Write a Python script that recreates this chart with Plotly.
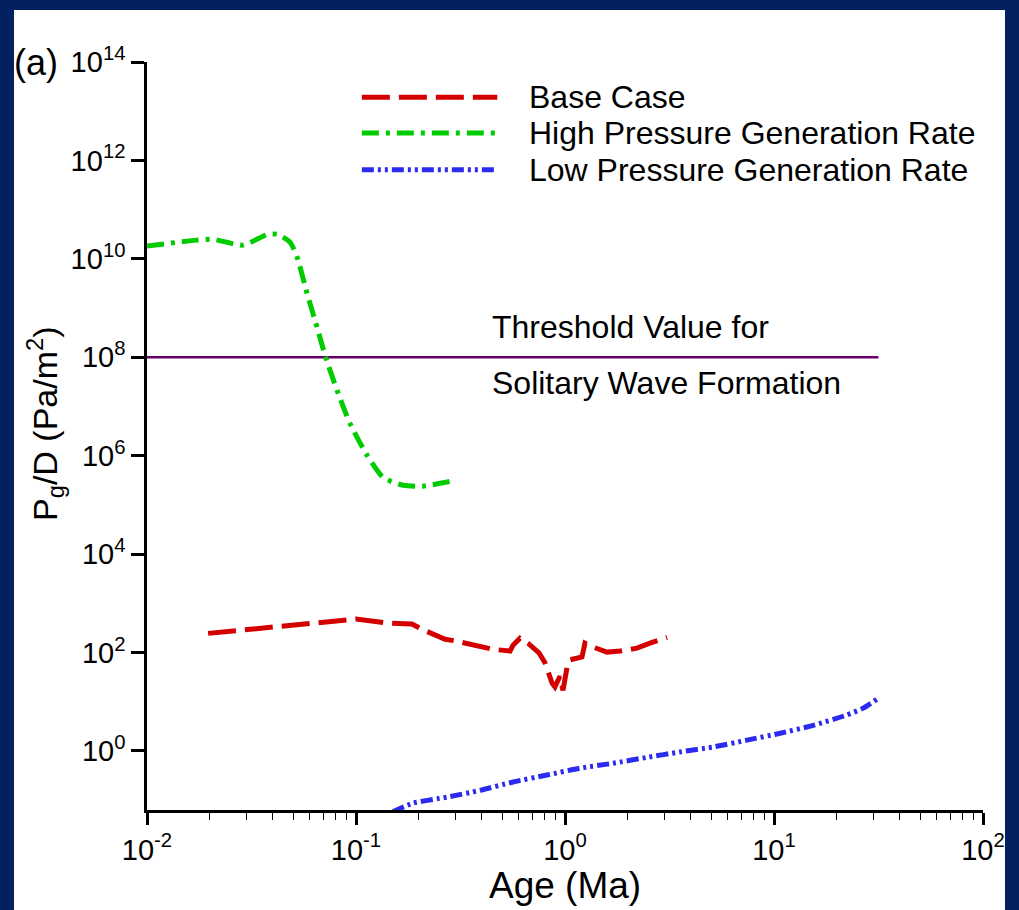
import plotly.graph_objects as go

# Base case: age (Ma) and P_g/D (Pa/m^2)
base_age = [0.0196, 0.031, 0.048, 0.084, 0.10, 0.14, 0.185, 0.21, 0.267, 0.304,
            0.392, 0.448, 0.546, 0.564, 0.609, 0.665, 0.751, 0.802, 0.867, 0.895,
            0.946, 0.978, 1.023, 1.057, 1.206, 1.246, 1.362, 1.588, 1.834, 2.21,
            2.55, 3.08]
base_pgd = [245, 295, 355, 437, 479, 398, 380, 288, 186, 170,
            129, 117, 107, 141, 195, 155, 98, 62, 24, 20,
            33, 17, 50, 71, 81, 155, 129, 102, 107, 123,
            155, 204]

# High pressure generation rate
high_age = [0.01, 0.0173, 0.0207, 0.0288, 0.0379, 0.0419, 0.0483, 0.0522, 0.0583,
            0.0651, 0.0711, 0.0811, 0.0935, 0.113, 0.1346, 0.168, 0.209, 0.282]
high_pgd = [1.82e10, 2.4e10, 2.5e10, 1.9e10, 3.16e10, 3.16e10, 2.19e10, 1.1e10, 2.0e9,
            4.07e8, 1.1e8, 2.14e7, 4.57e6, 1.02e6, 3.63e5, 2.5e5, 2.4e5, 3.0e5]

# Low pressure generation rate
low_age = [0.15, 0.1875, 0.272, 0.392, 0.564, 0.82, 1.18, 1.70, 2.47, 3.55,
           5.10, 7.43, 10.7, 15.4, 22.3, 26.7, 31.5]
low_pgd = [0.058, 0.087, 0.115, 0.158, 0.234, 0.324, 0.447, 0.562, 0.741, 0.955,
           1.20, 1.66, 2.29, 3.31, 5.37, 7.41, 11.7]

# Threshold for solitary wave formation
threshold_age = [0.01, 31.6]
threshold_pgd = [1e8, 1e8]

x_tickvals = [0.01, 0.1, 1, 10, 100]
x_ticktext = ["10<sup>-2</sup>", "10<sup>-1</sup>", "10<sup>0</sup>", "10<sup>1</sup>", "10<sup>2</sup>"]
y_tickvals = [1, 1e2, 1e4, 1e6, 1e8, 1e10, 1e12, 1e14]
y_ticktext = ["10<sup>%d</sup>" % e for e in range(0, 15, 2)]
x_minor = [k * 10.0 ** e for e in range(-2, 2) for k in range(2, 10)]

RED = "#d40000"
GREEN = "#00cc00"
BLUE = "#2b2bf0"
PURPLE = "#660066"
NAVY = "#032160"

RED_DASH = "28px,9px"
GREEN_DASH = "17px,7px,4px,7px"
BLUE_DASH = "12px,4px,3px,4px,3px,4px"

fig = go.Figure()
fig.add_trace(go.Scatter(x=threshold_age, y=threshold_pgd, mode="lines",
                         line=dict(color=PURPLE, width=2.5), name="Threshold"))
fig.add_trace(go.Scatter(x=base_age, y=base_pgd, mode="lines",
                         line=dict(color=RED, width=5, dash=RED_DASH), name="Base Case"))
fig.add_trace(go.Scatter(x=high_age, y=high_pgd, mode="lines",
                         line=dict(color=GREEN, width=5, dash=GREEN_DASH, shape="spline", smoothing=0.6),
                         name="High Pressure Generation Rate"))
fig.add_trace(go.Scatter(x=low_age, y=low_pgd, mode="lines",
                         line=dict(color=BLUE, width=5, dash=BLUE_DASH, shape="spline", smoothing=0.6),
                         name="Low Pressure Generation Rate"))

FONT = "Liberation Sans, Arial, sans-serif"

# white panel on the navy page
shapes = [dict(type="rect", xref="paper", yref="paper", x0=-0.1591, x1=1.0263,
               y0=-0.14, y1=1.0695, fillcolor="white", line=dict(width=0), layer="below")]

# legend keys
legend_rows = [("Base Case", RED, RED_DASH, 0.953),
               ("High Pressure Generation Rate", GREEN, GREEN_DASH, 0.905),
               ("Low Pressure Generation Rate", BLUE, BLUE_DASH, 0.856)]
annotations = []
for label, color, dash, yy in legend_rows:
    shapes.append(dict(type="line", xref="paper", yref="paper", x0=0.257, x1=0.419,
                       y0=yy, y1=yy, line=dict(color=color, width=5, dash=dash)))
    annotations.append(dict(text=label, xref="paper", yref="paper", x=0.455, y=yy,
                            xanchor="left", yanchor="middle", showarrow=False,
                            font=dict(size=32, family=FONT, color="black")))

annotations += [
    dict(text="Threshold Value for", xref="paper", yref="paper", x=0.41, y=0.6457,
         xanchor="left", yanchor="middle", showarrow=False, font=dict(size=32, family=FONT)),
    dict(text="Solitary Wave Formation", xref="paper", yref="paper", x=0.41, y=0.571,
         xanchor="left", yanchor="middle", showarrow=False, font=dict(size=32, family=FONT)),
    dict(text="(a)", xref="paper", yref="paper", x=-0.161, y=1.0,
         xanchor="left", yanchor="middle", showarrow=False, font=dict(size=36, family=FONT)),
    dict(text="Age (Ma)", xref="paper", yref="paper", x=0.5, y=-0.1003,
         xanchor="center", yanchor="middle", showarrow=False, font=dict(size=37, family=FONT)),
    dict(text="P<sub>g</sub>/D (Pa/m<sup>2</sup>)", xref="paper", yref="paper", x=-0.122, y=0.516,
         xanchor="center", yanchor="middle", textangle=-90, showarrow=False,
         font=dict(size=34, family=FONT)),
]

fig.update_layout(
    width=1019, height=910,
    margin=dict(l=147, r=36, t=62, b=100, autoexpand=False),
    paper_bgcolor=NAVY, plot_bgcolor="rgba(0,0,0,0)",
    font=dict(family=FONT, color="black", size=29),
    showlegend=False,
    shapes=shapes,
    annotations=annotations,
    xaxis=dict(type="log", range=[-2, 2], tickmode="array", tickvals=x_tickvals, ticktext=x_ticktext,
               ticks="outside", ticklen=12, tickwidth=2.5, tickcolor="black",
               showline=True, linewidth=2.5, linecolor="black", showgrid=False, zeroline=False,
               tickfont=dict(size=29, family=FONT, color="black"),
               minor=dict(tickmode="array", tickvals=x_minor, ticks="outside", ticklen=7,
                          tickwidth=1, tickcolor="black", showgrid=False)),
    yaxis=dict(type="log", range=[-1.2, 14], tickmode="array", tickvals=y_tickvals, ticktext=y_ticktext,
               ticks="outside", ticklen=13, tickwidth=2.5, tickcolor="black",
               showline=True, linewidth=2.5, linecolor="black", showgrid=False, zeroline=False,
               tickfont=dict(size=29, family=FONT, color="black")),
)

fig.write_html("out.html")
